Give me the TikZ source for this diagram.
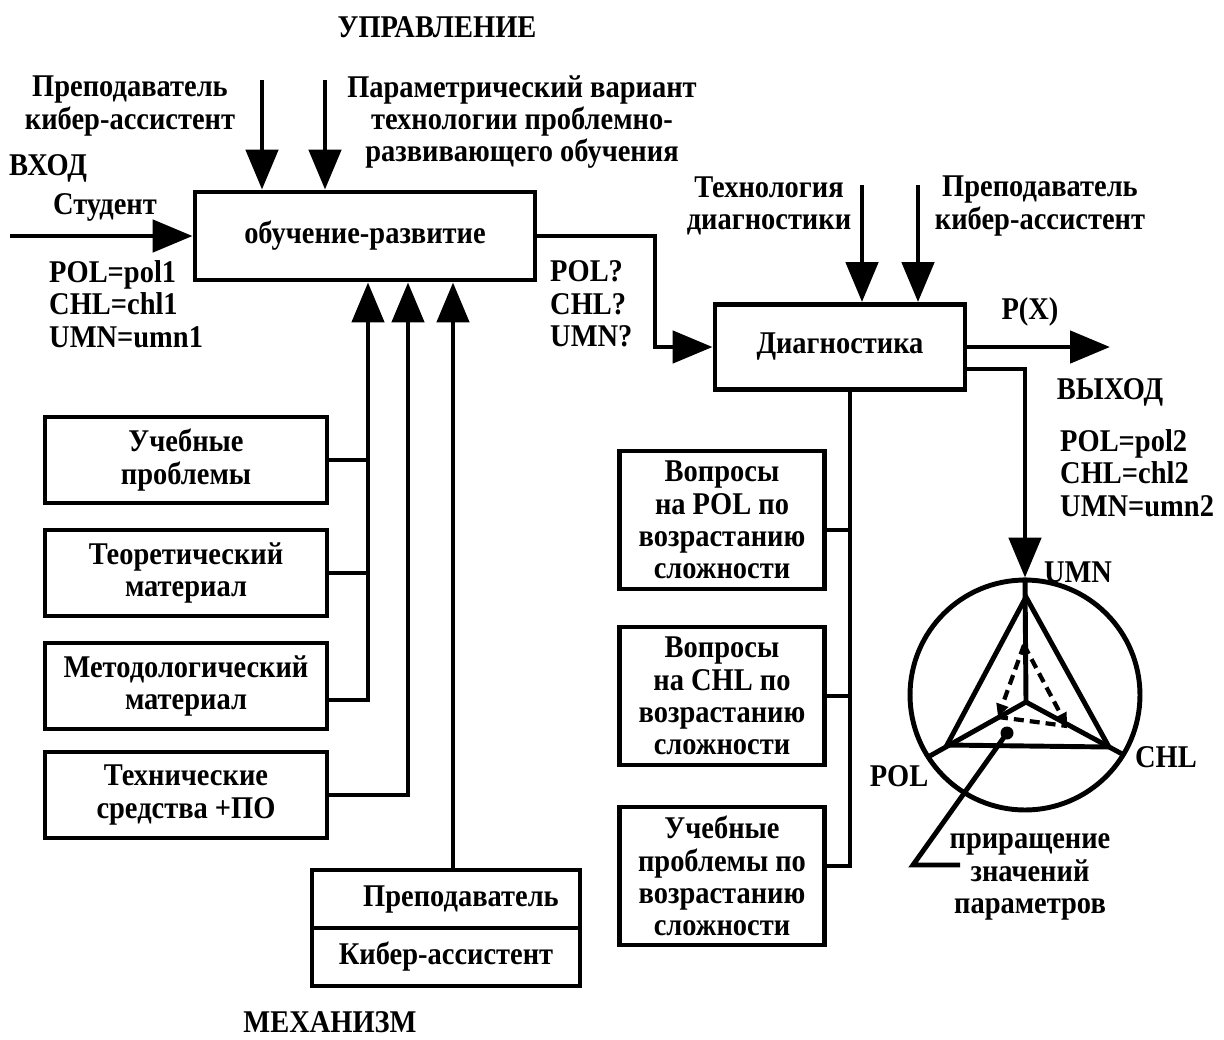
\documentclass[tikz,border=0pt]{standalone}
\usepackage{fontspec}
\setmainfont{Liberation Serif}[FakeStretch=0.9]
\usetikzlibrary{positioning,arrows.meta}

\begin{document}
\begin{tikzpicture}[
  x=0.02cm, y=-0.02cm,
  line width=2.8pt,
  font=\bfseries\fontsize{18}{18.4}\selectfont,
  mybox/.style={draw,rectangle,align=center,inner sep=0pt},
  lbox/.style={mybox,minimum width=5.64cm,minimum height=1.72cm},
  rbox/.style={mybox,minimum width=4.1cm,minimum height=2.76cm},
  mytext/.style={align=center,inner sep=1pt},
  arr/.style={-{Triangle[length=0.8cm,width=0.64cm]}},
  darr/.style={dash pattern=on 0.2cm off 0.12cm,line width=2.4pt,
    -{Triangle[length=0.26cm,width=0.24cm]}}
]
\useasboundingbox (0,0) rectangle (1224,1039);

% main blocks
\node[mybox,minimum width=6.8cm,minimum height=1.76cm] (obr) at (365,236) {обучение-развитие};
\node[mybox,minimum width=5cm,minimum height=1.7cm] (dia) at (840,347) {Диагностика};

% resources
\node[lbox] (b1) at (186,460) {Учебные\\проблемы};
\node[lbox] (b2) at (186,573) {Теоретический\\материал};
\node[lbox] (b3) at (186,686) {Методологический\\материал};
\node[lbox] (b4) at (186,795) {Технические\\средства +ПО};

\node[mybox,minimum width=5.36cm,minimum height=1.16cm] (mechA) at (446,899) {\hspace*{0.6cm}Преподаватель};
\node[mybox,minimum width=5.36cm,minimum height=1.16cm] (mechB) at (446,957) {Кибер-ассистент};

\node[rbox] (r1) at (722,520) {Вопросы\\на POL по\\возрастанию\\сложности};
\node[rbox] (r2) at (722,696) {Вопросы\\на CHL по\\возрастанию\\сложности};
\node[rbox] (r3) at (722,876) {Учебные\\проблемы по\\возрастанию\\сложности};

% labels
\node[mytext] (upr) at (437,27) {УПРАВЛЕНИЕ};
\node[mytext] (ctl1) at (130,106) {Преподаватель\\кибер-ассистент};
\node[mytext] (ctl2) at (522,122) {Параметрический вариант\\технологии проблемно-\\развивающего обучения};
\node[mytext] (vhod) at (48,168) {ВХОД};
\node[mytext] (stud) at (105,207) {Студент};
\node[mytext,align=left,anchor=west] (in1) at (45,304) {POL=pol1\\CHL=chl1\\UMN=umn1};
\node[mytext,align=left,anchor=west] (q1) at (546,304) {POL?\\CHL?\\UMN?};
\node[mytext] (ctl3) at (769,206) {Технология\\диагностики};
\node[mytext] (ctl4) at (1040,206) {Преподаватель\\кибер-ассистент};
\node[mytext] (px) at (1030,312) {P(X)};
\node[mytext] (vyh) at (1110,392) {ВЫХОД};
\node[mytext,align=left,anchor=west] (out1) at (1056,473) {POL=pol2\\CHL=chl2\\UMN=umn2};
\node[mytext] (mech) at (330,1022) {МЕХАНИЗМ};

% coordinates
\coordinate (inp) at (10,236);
\coordinate (t1) at (262,80);
\coordinate (t2) at (325,80);
\coordinate (t3) at (862,185);
\coordinate (t4) at (918,185);
\coordinate (m1) at (368,0);
\coordinate (m2) at (408,0);
\coordinate (m3) at (453,0);
\coordinate (bx) at (655,0);
\coordinate (vx) at (850,0);
\coordinate (pout) at (1110,0);
\coordinate (ox) at (1025,0);

% connectors
\draw[arr] (inp) -- (obr.west);
\draw[arr] (t1) -- (t1 |- obr.north);
\draw[arr] (t2) -- (t2 |- obr.north);
\draw[arr] (t3) -- (t3 |- dia.north);
\draw[arr] (t4) -- (t4 |- dia.north);
\draw[arr] (obr.east) -- (obr.east -| bx) |- (dia.west);
\draw (b1.east) -- (b1.east -| m1);
\draw (b2.east) -- (b2.east -| m1);
\draw[arr] ([yshift=-0.28cm]b3.east) -| (obr.south -| m1);
\draw[arr] (b4.east) -| (obr.south -| m2);
\draw[arr] (mechA.north -| m3) -- (obr.south -| m3);
\draw[arr] (dia.east) -- (dia.east -| pout);
\draw (dia.south -| vx) |- ([yshift=0.2cm]r3.east);
\draw ([yshift=-0.2cm]r1.east) -- ([yshift=-0.2cm]r1.east -| vx);
\draw (r2.east) -- (r2.east -| vx);

% parameter triangle
\node[circle,draw,minimum size=4.6cm,inner sep=0pt] (circ) at (1025,695) {};
\coordinate (O) at (1026,702);
\coordinate (A) at (1026,597);
\coordinate (L) at (947,745);
\coordinate (R) at (1109,747);
\coordinate (Lc) at (928,757);
\coordinate (Rc) at (1124,755);
\draw[arr] ([yshift=-0.44cm]dia.east) -- ([yshift=-0.44cm]dia.east -| ox) -- (circ.north);
\draw (A) -- (L) -- (R) -- cycle;
\draw (circ.north) -- (O);
\draw (O) -- (Lc);
\draw (O) -- (Rc);
\coordinate (dT) at (1024,645);
\coordinate (dL) at (998,717);
\coordinate (dR) at (1067,726);
\draw[darr] (dT) -- (dL);
\draw[darr] (dT) -- (dR);
\draw[dash pattern=on 0.2cm off 0.12cm,line width=2.4pt] (dL) -- (dR);
\node[circle,fill,inner sep=0pt,minimum size=0.26cm] (dot) at (1007,733) {};
\coordinate (lead) at (913,865);
\coordinate (leadend) at (960,865);
\draw (dot.center) -- (lead) -- (leadend);
\node[mytext] (umn) at (1078,572) {UMN};
\node[mytext] (chl) at (1166,757) {CHL};
\node[mytext] (pol) at (899,776) {POL};
\node[mytext] (incr) at (1030,877) {приращение\\значений\\параметров};

\end{tikzpicture}
\end{document}
